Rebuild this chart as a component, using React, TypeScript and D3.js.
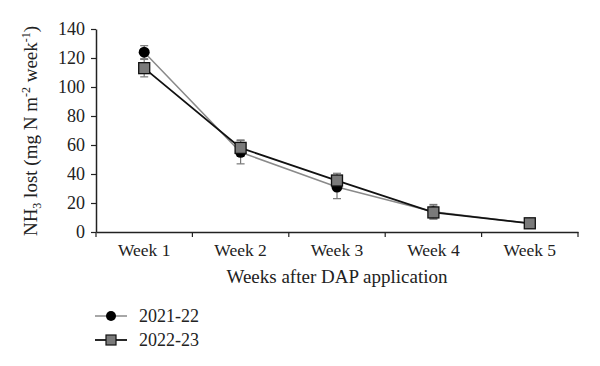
import React, { useEffect, useRef } from 'react';
import { select, scaleBand, scaleLinear, axisBottom, axisLeft, line } from 'd3';

const weeks = ['Week 1', 'Week 2', 'Week 3', 'Week 4', 'Week 5'];
const yTicks = [0, 20, 40, 60, 80, 100, 120, 140];

const season1 = [124, 55, 31, 14, 6];
const season1Err = [4.5, 8, 8, 5, 1];
const season2 = [113, 58, 35.5, 13.5, 6];
const season2Err = [6, 5.5, 5, 4.5, 1];

const dims = {
  width: 600,
  height: 366,
  left: 96,
  right: 578,
  top: 29,
  bottom: 232
};

const font = '"Liberation Serif", "Times New Roman", serif';

function App() {
  const svgRef = useRef<SVGSVGElement | null>(null);

  useEffect(() => {
    const svg = select(svgRef.current);
    svg.selectAll('*').remove();

    const x = scaleBand().domain(weeks).range([dims.left, dims.right]);
    const y = scaleLinear().domain([0, 140]).range([dims.bottom, dims.top]);
    const cx = (w: string) => x(w)! + x.bandwidth() / 2;

    // axes
    const xAxisG = svg.append('g')
      .attr('transform', `translate(0, ${dims.bottom})`)
      .call(axisBottom(x).tickSize(0).tickPadding(12));
    xAxisG.select('.domain').attr('stroke', '#222').attr('stroke-width', 1.5);
    xAxisG.selectAll('text').attr('font-family', font).attr('font-size', 17.5).attr('fill', '#222');
    xAxisG.selectAll('.bt').data([...weeks, 'end']).enter().append('line')
      .attr('x1', (d, i) => dims.left + i * x.bandwidth())
      .attr('x2', (d, i) => dims.left + i * x.bandwidth())
      .attr('y1', 0).attr('y2', 5)
      .attr('stroke', '#222').attr('stroke-width', 1.2);

    const yAxisG = svg.append('g')
      .attr('transform', `translate(${dims.left}, 0)`)
      .call(axisLeft(y).tickValues(yTicks).tickSize(5).tickSizeOuter(0).tickPadding(6));
    yAxisG.select('.domain').attr('stroke', '#222').attr('stroke-width', 1.5);
    yAxisG.selectAll('.tick line').attr('stroke', '#222').attr('stroke-width', 1.2);
    yAxisG.selectAll('text').attr('font-family', font).attr('font-size', 18).attr('fill', '#222');

    // axis titles
    svg.append('text')
      .attr('x', (dims.left + dims.right) / 2).attr('y', 283)
      .attr('text-anchor', 'middle')
      .attr('font-family', font).attr('font-size', 19).attr('fill', '#222')
      .text('Weeks after DAP application');

    const yt = svg.append('text')
      .attr('transform', `translate(37, 131) rotate(-90)`)
      .attr('text-anchor', 'middle')
      .attr('font-family', font).attr('font-size', 19).attr('fill', '#222');
    yt.append('tspan').text('NH');
    yt.append('tspan').attr('font-size', 12).attr('dy', 4).text('3');
    yt.append('tspan').attr('dy', -4).text(' lost (mg N m');
    yt.append('tspan').attr('font-size', 12).attr('dy', -7).text('-2');
    yt.append('tspan').attr('dy', 7).text(' week');
    yt.append('tspan').attr('font-size', 12).attr('dy', -7).text('-1');
    yt.append('tspan').attr('dy', 7).text(')');

    const gen = line<number>().x((d, i) => cx(weeks[i])).y(d => y(d));

    // error bars
    const errBars = (vals: number[], errs: number[]) => {
      const g = svg.append('g').attr('stroke', '#777').attr('stroke-width', 1.2);
      vals.forEach((v, i) => {
        const px = cx(weeks[i]);
        g.append('line').attr('x1', px).attr('x2', px).attr('y1', y(v - errs[i])).attr('y2', y(v + errs[i]));
        g.append('line').attr('x1', px - 4).attr('x2', px + 4).attr('y1', y(v - errs[i])).attr('y2', y(v - errs[i]));
        g.append('line').attr('x1', px - 4).attr('x2', px + 4).attr('y1', y(v + errs[i])).attr('y2', y(v + errs[i]));
      });
    };
    errBars(season1, season1Err);
    errBars(season2, season2Err);

    svg.append('path').attr('d', gen(season1)).attr('fill', 'none').attr('stroke', '#8a8a8a').attr('stroke-width', 1.5);
    svg.append('path').attr('d', gen(season2)).attr('fill', 'none').attr('stroke', '#111').attr('stroke-width', 1.8);

    svg.selectAll('.c1').data(season1).enter().append('circle')
      .attr('cx', (d, i) => cx(weeks[i])).attr('cy', d => y(d)).attr('r', 5.5).attr('fill', '#000');
    svg.selectAll('.s2').data(season2).enter().append('rect')
      .attr('x', (d, i) => cx(weeks[i]) - 5.5).attr('y', d => y(d) - 5.5)
      .attr('width', 11).attr('height', 11)
      .attr('fill', '#7a7a7a').attr('stroke', '#111').attr('stroke-width', 1.3);

    // legend
    const lg = svg.append('g');
    lg.append('line').attr('x1', 95).attr('x2', 127).attr('y1', 316).attr('y2', 316).attr('stroke', '#8a8a8a').attr('stroke-width', 1.5);
    lg.append('circle').attr('cx', 111).attr('cy', 316).attr('r', 5).attr('fill', '#000');
    lg.append('text').attr('x', 139).attr('y', 322).attr('font-family', font).attr('font-size', 18).attr('fill', '#222').text('2021-22');
    lg.append('line').attr('x1', 95).attr('x2', 127).attr('y1', 340).attr('y2', 340).attr('stroke', '#111').attr('stroke-width', 1.8);
    lg.append('rect').attr('x', 106).attr('y', 335).attr('width', 10).attr('height', 10).attr('fill', '#7a7a7a').attr('stroke', '#111').attr('stroke-width', 1.2);
    lg.append('text').attr('x', 139).attr('y', 346).attr('font-family', font).attr('font-size', 18).attr('fill', '#222').text('2022-23');
  }, []);

  return (
    <svg ref={svgRef} width={dims.width} height={dims.height}
      style={{ position: 'absolute', left: 0, top: 0, background: '#fff' }} />
  );
}

export default App;
